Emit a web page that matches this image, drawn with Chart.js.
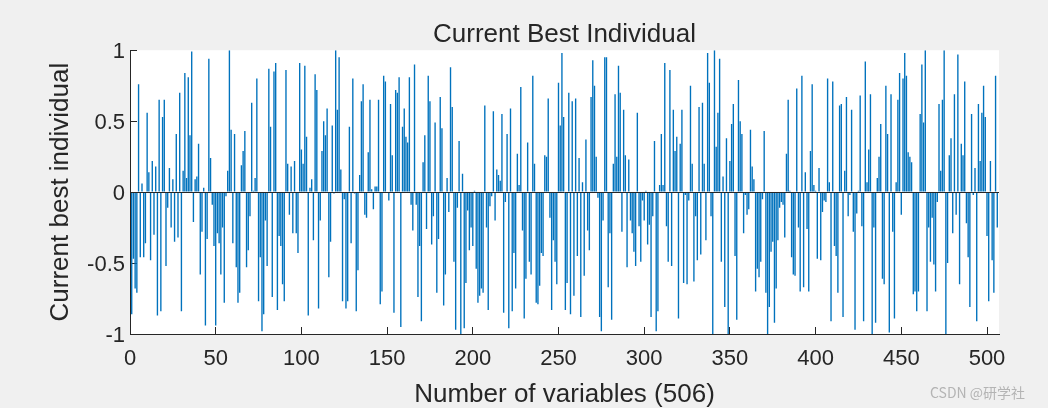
<!DOCTYPE html>
<html>
<head>
<meta charset="utf-8">
<title>Current Best Individual</title>
<script src="https://cdn.jsdelivr.net/npm/chart.js@4.4.1/dist/chart.umd.min.js"></script>
<style>
    html, body { margin: 0; padding: 0; background: #f0f0f0; }
    #wrap { position: relative; width: 1048px; height: 408px; }
    #watermark {
        position: absolute; left: 930px; top: 382px;
        font: 14px "Noto Sans CJK SC", "Noto Sans", sans-serif;
        color: #b4b4b4;
    }
</style>
</head>
<body>
<div id="wrap">
    <canvas id="bestChart" width="1048" height="408"></canvas>
    <div id="watermark">CSDN @研学社</div>
</div>
<script>
// testi del grafico
const chartTitle = 'Current Best Individual';
const xTitle = 'Number of variables (506)';
const yTitle = 'Current best individual';

// tick degli assi
const xTickValues = [0, 50, 100, 150, 200, 250, 300, 350, 400, 450, 500];
const yTickValues = [-1, -0.5, 0, 0.5, 1];

// valori del miglior individuo (variabili 1..506)
const bestIndividual = [
    -0.86, -0.47, -0.68, -0.71, 0.76, -0.46, 0.06, -0.46, -0.36, 0.56,
    0.14, -0.48, 0.22, -0.30, 0.18, -0.87, 0.65, -0.84, 0.53, 0.65,
    -0.52, -0.11, 0.17, -0.25, 0.09, -0.35, 0.41, -0.32, 0.70, -0.84,
    0.15, 0.84, 0.10, 0.81, 0.40, 0.99, -0.21, 0.09, 0.11, 0.34,
    -0.58, -0.28, 0.03, -0.94, -0.33, 0.94, 0.24, -0.09, -0.38, -0.94,
    -0.29, -0.36, -0.58, -0.25, -0.78, -0.03, 0.15, 1.0, 0.44, -0.36,
    0.41, -0.53, -0.78, -0.71, 0.19, 0.29, 0.43, -0.53, -0.41, -0.17,
    0.63, 0.01, 0.10, 0.80, -0.77, -0.46, -0.98, -0.86, -0.20, -0.52,
    0.87, 0.46, -0.74, 0.85, 0.91, -0.83, -0.31, -0.38, -0.65, -0.77,
    0.86, 0.20, -0.16, 0.18, -0.29, 0.22, -0.29, -0.43, 0.91, 0.30,
    0.20,
    0.89, 0.39, -0.87, 0.03, 0.09, -0.34, 0.83, 0.72, -0.82, -0.20,
    0.29, 0.50, 0.40, 0.59, -0.60, -0.35, 0.47, -0.01, 1.0, 0.58,
    0.95, 0.16, -0.77, -0.05, -0.82, -0.77, 0.46, -0.36, 0.80, -0.01,
    -0.84, -0.55, 0.12, 0.64, 0.76, -0.16, -0.18, 0.28, 0.65, 0.02,
    -0.12, 0.04, 0.04, 0.65, -0.79, -0.70, 0.82, 0.78, 0.0, -0.06,
    0.62,
    0.26, -0.85, 0.72, 0.70, 0.81, -0.95, 0.46, 0.59, 0.39, 0.35,
    0.81, -0.09, -0.27, 0.90, -0.09, -0.74, -0.38, -0.91, 0.21, 0.40,
    -0.26, 0.82, 0.64, -0.37, -0.17, 0.49, -0.71, -0.33, 0.67, 0.45,
    -0.80, -0.58, 0.10, -0.14, 0.88, 0.60, -0.49, -0.97, -0.11, 0.36,
    -1.0, 0.13, -0.96, -0.64, -0.13, -0.41, -0.25, -0.38, 0.01, -0.54,
    -0.78, -0.73,
    -0.68, -0.71, 0.61, -0.25, -0.83, -0.10, -0.03, 0.57, -0.20, 0.16,
    0.12, 0.08, 0.55, -0.85, -0.07, 0.41, -0.96, 0.59, -0.84, -0.43,
    -0.68, 0.27, 0.05, 0.74, -0.27, -0.89, -0.61, 0.35, -0.49, -0.58,
    0.82, 0.20, -0.78, -0.79, -0.66, -0.43, -0.45, 0.26, 0.25, 0.66,
    -0.18, -0.83, -0.34, -0.49, -0.65, 0.77, 0.47, 0.98, 0.53, -0.83,
    -0.64,
    0.70, -0.86, 0.64, -0.73, 0.66, -0.45, 0.24, -0.88, 0.07, -0.59,
    0.37, -0.27, -0.41, 0.67, 0.93, 0.75, 0.25, -0.04, -0.88, -0.98,
    -0.20, 0.95, 0.95, -0.67, -0.29, -0.90, 0.20, 0.69, 0.25, 0.89,
    0.70, -0.28, 0.58, 0.26, -0.53, 0.23, -0.20, -0.29, -0.42, -0.52,
    0.56, -0.24, -0.49, -0.06, -0.20, 0.01, -0.37, -0.23, -0.88, -0.17,
    0.36, -0.98,
    -0.84, 0.05, 0.41, 0.05, 0.91, -0.24, -0.49, 0.86, -0.52, 0.58,
    0.29, 0.39, -0.89, 0.34, 0.58, -0.64, -0.02, -0.65, -0.06, 0.75,
    0.20, -0.63, -0.17, -0.48, 0.60, -0.44, 0.63, 0.20, -0.34, 0.98,
    0.77, -0.17, -1.0, 1.0, 0.32, 0.56, 0.94, -0.49, 0.11, -0.81,
    0.38, -1.0, 0.22, 0.48, 0.62, -0.45, -0.90, 0.79, 0.50, 0.41,
    -0.29,
    -0.02, -0.16, -0.12, 0.44, 0.18, 0.09, -0.70, -0.54, -0.60, -0.49,
    -0.05, 0.43, -0.71, -1.0, -0.81, -0.42, -0.35, -0.92, -0.68, -0.34,
    -0.11, -0.07, -0.09, -0.32, 0.27, 0.65, 0.01, -0.46, -0.58, -0.59,
    0.73, -0.25, -0.70, 0.82, -0.67, 0.14, -0.26, -0.70, 0.29, 0.76,
    0.05, 0.01, -0.47, 0.17, -0.48, -0.14, -0.06, -0.07, 0.80, 0.07,
    -0.91,
    0.78, -0.38, -0.45, -0.71, 0.61, 0.62, -0.88, 0.15, 0.67, -0.17,
    -0.02, 0.58, -0.28, -0.97, -0.15, 0.01, 0.68, -0.24, -0.91, 0.92,
    0.07, 0.30, 0.69, -1.0, -0.25, -0.92, 0.10, 0.25, 0.48, -0.61,
    -0.65, 0.75, 0.41, -0.99, 0.69, -0.28, -0.89, 0.07, 0.65, 0.84,
    -0.16, 0.80, 0.98, 0.82, 0.28, 0.25, 0.21, -0.72, -0.70, -0.84,
    -0.70, 0.55,
    0.90, 0.49, 1.0, -0.84, -0.25, -0.49, -0.18, -0.51, -0.70, -0.07,
    0.62, 0.15, 0.65, 1.0, -1.0, -0.50, 0.26, 0.38, -0.29, 0.69,
    -0.16, 0.97, -0.65, 0.34, 0.26, 0.78, -0.22, -0.46, -0.81, 0.55,
    -0.02, 0.17, -0.91, 0.62, 0.22, 0.56, 0.75, 0.53, -0.31, -0.77,
    0.22, -0.48, -0.71, 0.82, -0.25
];

const axisColor = '#262626';
const barColor = '#0072BD';
const fontFamily = '"Liberation Sans", Arial, Helvetica, sans-serif';

// sfondo bianco dell'area del grafico (stile MATLAB)
const plotBackground = {
    id: 'plotBackground',
    beforeDraw(chart) {
        const { ctx, chartArea } = chart;
        ctx.save();
        ctx.fillStyle = '#ffffff';
        ctx.fillRect(chartArea.left, chartArea.top, chartArea.right - chartArea.left, chartArea.bottom - chartArea.top);
        ctx.restore();
    }
};

// linea di base a y = 0 sopra le barre
const baseLine = {
    id: 'baseLine',
    afterDatasetsDraw(chart) {
        const { ctx, chartArea, scales } = chart;
        const y = Math.round(scales.y.getPixelForValue(0)) + 0.5;
        ctx.save();
        ctx.strokeStyle = axisColor;
        ctx.lineWidth = 1;
        ctx.beginPath();
        ctx.moveTo(chartArea.left, y);
        ctx.lineTo(chartArea.right, y);
        ctx.stroke();
        ctx.restore();
    }
};

document.addEventListener('DOMContentLoaded', function () {
    const canvas = document.getElementById('bestChart');
    if (!canvas) {
        console.error("Canvas 'bestChart' not found.");
        return;
    }

    new Chart(canvas.getContext('2d'), {
        type: 'bar',
        data: {
            datasets: [{
                data: bestIndividual.map((v, i) => ({ x: i + 1, y: v })),
                backgroundColor: barColor,
                borderWidth: 0,
                barPercentage: 0.8,
                categoryPercentage: 1.0
            }]
        },
        options: {
            responsive: false,
            animation: false,
            devicePixelRatio: 1,
            layout: { padding: { left: 0, right: 49, top: 0, bottom: 0 } },
            plugins: {
                legend: { display: false },
                tooltip: { enabled: false },
                title: {
                    display: true,
                    text: chartTitle,
                    fullSize: false,
                    color: axisColor,
                    font: { family: fontFamily, size: 26, weight: 'normal' },
                    padding: { top: 19, bottom: 0 }
                }
            },
            scales: {
                x: {
                    type: 'linear',
                    min: 0,
                    max: 507,
                    offset: false,
                    afterBuildTicks: s => { s.ticks = xTickValues.map(v => ({ value: v })); },
                    afterFit: s => { s.height = 74; },
                    ticks: {
                        color: axisColor,
                        font: { family: fontFamily, size: 22 },
                        padding: 19,
                        maxRotation: 0,
                        autoSkip: false,
                        callback: v => String(v)
                    },
                    grid: { offset: false, drawOnChartArea: false, drawTicks: true, tickLength: -7, tickColor: axisColor },
                    border: { display: true, color: axisColor, width: 1 },
                    title: {
                        display: true,
                        text: xTitle,
                        color: axisColor,
                        font: { family: fontFamily, size: 26 },
                        padding: { top: 0, bottom: -2 }
                    }
                },
                y: {
                    min: -1,
                    max: 1,
                    afterBuildTicks: s => { s.ticks = yTickValues.map(v => ({ value: v })); },
                    afterFit: s => { s.width = 130; },
                    ticks: {
                        color: axisColor,
                        font: { family: fontFamily, size: 22 },
                        padding: 12,
                        labelOffset: 2,
                        callback: v => String(v)
                    },
                    grid: { offset: false, drawOnChartArea: false, drawTicks: true, tickLength: -7, tickColor: axisColor },
                    border: { display: true, color: axisColor, width: 1 },
                    title: {
                        display: true,
                        text: yTitle,
                        color: axisColor,
                        font: { family: fontFamily, size: 26 },
                        padding: { top: 45, bottom: 0 }
                    }
                }
            }
        },
        plugins: [plotBackground, baseLine]
    });
});
</script>
</body>
</html>
